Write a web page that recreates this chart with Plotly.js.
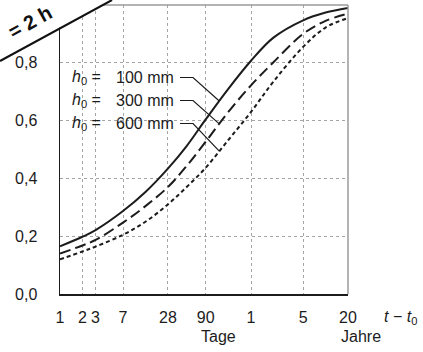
<!DOCTYPE html>
<html><head><meta charset="utf-8">
<script src="https://cdn.plot.ly/plotly-3.0.1.min.js"></script>
<style>html,body{margin:0;padding:0;background:#fff}#chart{width:423px;height:352px}</style>
</head><body><div id="chart"></div>
<script>
// t - t0 in days
const tDays   = [1, 2, 3, 7, 14, 28, 50, 90, 180, 365, 730, 1825, 3650, 7300];
const beta100 = [0.165, 0.198, 0.221, 0.287, 0.353, 0.434, 0.512, 0.604, 0.709, 0.807, 0.887, 0.947, 0.974, 0.990];
const beta300 = [0.140, 0.168, 0.187, 0.247, 0.304, 0.370, 0.443, 0.527, 0.629, 0.722, 0.802, 0.900, 0.945, 0.970];
const beta600 = [0.120, 0.147, 0.164, 0.205, 0.250, 0.310, 0.370, 0.437, 0.532, 0.630, 0.735, 0.855, 0.922, 0.955];
const labelValues = ['100 mm', '300 mm', '600 mm'];
const xTickVals = [1, 2, 3, 7, 28, 90, 365, 1825, 7300];
const xTickText = ['1', '2', '3', '7', '28', '90', '1', '5', '20'];
const yTickVals = [0, 0.2, 0.4, 0.6, 0.8];
const yTickText = ['0,0', '0,2', '0,4', '0,6', '0,8'];
const leaderDay = 137;

const FONT = 'Liberation Sans, Arial, Helvetica, sans-serif';
const FS = 16;
const INK = '#1c1c1c';
const xMaxLog = Math.log10(tDays[tDays.length - 1]);

const seriesList = [
  {y: beta100, dash: 'solid'},
  {y: beta300, dash: '11px,5px'},
  {y: beta600, dash: '4px,3px'}
];
const traces = seriesList.map((s, i) => ({
  x: tDays, y: s.y, type: 'scatter', mode: 'lines',
  name: 'h0 = ' + labelValues[i],
  line: {color: INK, width: 2, dash: s.dash, shape: 'spline', smoothing: 1},
  hoverinfo: 'skip'
}));

// value of a series at day d (linear in log t between read points)
function valueAt(ys, d) {
  const ld = Math.log10(d);
  for (let k = 0; k < tDays.length - 1; k++) {
    const a = Math.log10(tDays[k]), b = Math.log10(tDays[k + 1]);
    if (ld >= a && ld <= b) return ys[k] + (ys[k + 1] - ys[k]) * (ld - a) / (b - a);
  }
  return ys[ys.length - 1];
}

// pixel helpers for layout-only items (plot area: 60..348 x, 5..294 y)
const L = 60, R = 75, T = 5, B = 58, W = 423, H = 352;
const pw = W - L - R, ph = H - T - B;
const px2x = p => (p - L) / pw;
const py2y = p => (H - B - p) / ph;

const shapes = [
  {type: 'line', xref: 'paper', yref: 'paper', x0: 0, x1: 1, y0: 1, y1: 1, line: {color: '#9a9a9a', width: 1.5}},
  {type: 'line', xref: 'paper', yref: 'paper', x0: 1, x1: 1, y0: 0, y1: 1, line: {color: '#9a9a9a', width: 1.5}}
];
const annotations = [];
const rowsPx = [77.5, 100.5, 123.5];
seriesList.forEach((s, i) => {
  annotations.push({xref: 'paper', yref: 'paper', x: px2x(70), y: py2y(rowsPx[i]), xanchor: 'left', yanchor: 'middle',
    text: '<i>h</i><sub>0</sub> =', showarrow: false, font: {family: FONT, size: FS, color: INK}});
  annotations.push({xref: 'paper', yref: 'paper', x: px2x(114), y: py2y(rowsPx[i]), xanchor: 'left', yanchor: 'middle',
    text: labelValues[i], showarrow: false, font: {family: FONT, size: FS, color: INK}});
  const ex = Math.log10(leaderDay) / xMaxLog, ey = valueAt(s.y, leaderDay);
  shapes.push({type: 'path', xref: 'paper', yref: 'paper',
    path: `M ${px2x(180)} ${py2y(rowsPx[i])} L ${px2x(193)} ${py2y(rowsPx[i])} L ${ex} ${ey}`,
    line: {color: INK, width: 1.2}});
});

annotations.push({xref: 'paper', yref: 'paper', x: px2x(218), y: py2y(336), xanchor: 'center', yanchor: 'middle',
  text: 'Tage', showarrow: false, font: {family: FONT, size: FS, color: INK}});
annotations.push({xref: 'paper', yref: 'paper', x: px2x(361), y: py2y(336), xanchor: 'center', yanchor: 'middle',
  text: 'Jahre', showarrow: false, font: {family: FONT, size: FS, color: INK}});
annotations.push({xref: 'paper', yref: 'paper', x: px2x(400), y: py2y(317), xanchor: 'center', yanchor: 'middle',
  text: '<i>t</i> − <i>t</i><sub>0</sub>', showarrow: false, font: {family: FONT, size: FS, color: INK}});

// torn corner of the scan
shapes.push({type: 'path', xref: 'paper', yref: 'paper', layer: 'above',
  path: `M ${px2x(-2)} ${py2y(-2)} L ${px2x(114)} ${py2y(-2)} L ${px2x(-2)} ${py2y(61)} Z`,
  fillcolor: '#ffffff', line: {width: 0}});
shapes.push({type: 'line', xref: 'paper', yref: 'paper', layer: 'above',
  x0: px2x(0), y0: py2y(61), x1: px2x(112), y1: py2y(0), line: {color: '#111', width: 2}});
annotations.push({xref: 'paper', yref: 'paper', x: px2x(30), y: py2y(22), xanchor: 'center', yanchor: 'middle',
  text: '<b>= 2 h</b>', textangle: -29, showarrow: false, font: {family: FONT, size: 20, color: '#111'}});

const axisCommon = {
  showgrid: true, gridcolor: '#a5a5a5', griddash: 'dot', gridwidth: 1,
  showline: true, linecolor: INK, linewidth: 1.5, zeroline: false, ticks: '',
  tickfont: {family: FONT, size: FS, color: INK}, fixedrange: true
};

const layout = {
  width: W, height: H,
  margin: {l: L, r: R, t: T, b: B, pad: 0},
  paper_bgcolor: '#fff', plot_bgcolor: '#fff',
  showlegend: false,
  font: {family: FONT, size: FS, color: INK},
  xaxis: Object.assign({}, axisCommon, {type: 'log', range: [0, xMaxLog], tickvals: xTickVals, ticktext: xTickText, ticklabelstandoff: 8}),
  yaxis: Object.assign({}, axisCommon, {range: [0, 1], tickvals: yTickVals, ticktext: yTickText, ticklabelstandoff: 18}),
  shapes: shapes,
  annotations: annotations
};

Plotly.newPlot('chart', traces, layout, {staticPlot: true, displayModeBar: false});
</script>
</body></html>
